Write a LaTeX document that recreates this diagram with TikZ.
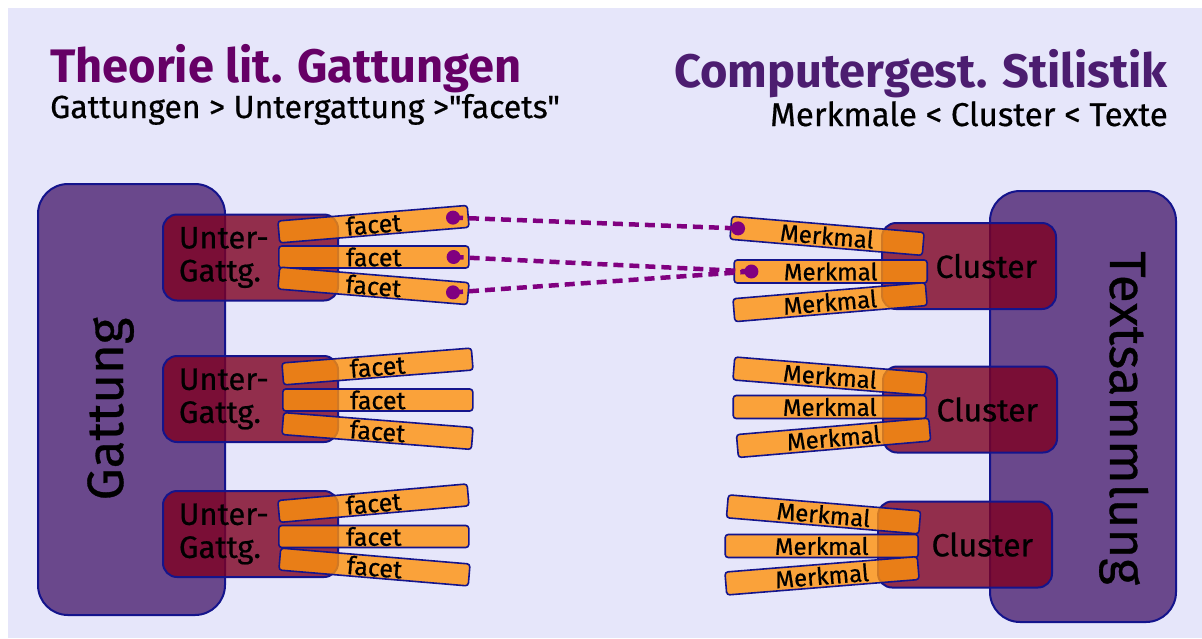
\documentclass[tikz,border=0pt]{standalone}
\usepackage{fontspec}
\setmainfont{Fira Sans}[Ligatures=TeXOff, UprightFeatures={FakeBold=0.6}]
\usetikzlibrary{calc}

\definecolor{bg}{RGB}{230,230,250}
\definecolor{edge}{RGB}{20,20,140}
\definecolor{groupfill}{RGB}{106,72,140}
\definecolor{subfill}{RGB}{126,0,33}
\definecolor{barfill}{RGB}{255,146,10}
\definecolor{linkcol}{RGB}{128,0,128}
\definecolor{titleL}{RGB}{102,0,102}
\definecolor{titleR}{RGB}{76,29,112}

\newcommand\fsz[2]{\fontsize{#1}{#2}\selectfont}

\begin{document}
\begin{tikzpicture}[x=1pt,y=-1pt,
  group/.style={draw=edge, line width=2pt, fill=groupfill, rounded corners=30pt, inner sep=0pt},
  biglabel/.style={font=\fsz{51}{51}, inner sep=0pt},
  subbox/.style={draw=edge, line width=2pt, fill=subfill, fill opacity=0.8, text opacity=1,
    rounded corners=14pt, minimum height=86pt, inner ysep=0pt},
  ugbox/.style={subbox, text width=143pt, inner xsep=16pt, align=left, font=\fsz{31}{33}},
  clbox/.style={subbox, text width=136pt, inner xsep=19pt, align=right, font=\fsz{32}{32}},
  bar/.style={draw=edge, line width=1.6pt, fill=barfill, fill opacity=0.8, text opacity=1,
    rounded corners=3pt, inner sep=0pt},
  facetbar/.style={bar, minimum width=190pt, minimum height=22pt, anchor=west, font=\fsz{25}{25}},
  merkbar/.style={bar, minimum width=193pt, minimum height=23pt, anchor=east, font=\fsz{24}{24}},
  dot/.style={circle, fill=linkcol, inner sep=0pt, minimum size=14pt},
  link/.style={draw=linkcol, line width=4.5pt, dash pattern=on 10pt off 6pt}
]
\useasboundingbox (0,0) rectangle (1202,638);
\fill[bg] (8,8) rectangle (1202,638);

% headings
\node[anchor=base west, inner sep=0pt, font=\bfseries\fsz{47}{47}, text=titleL] (titleL) at (50,82) {Theorie lit. Gattungen};
\node[anchor=base west, inner sep=0pt, font=\fsz{32}{32}] (subL) at (50,118) {Gattungen > Untergattung >"facets"};
\node[anchor=base east, inner sep=0pt, font=\bfseries\fsz{47}{47}, text=titleR] (titleR) at (1168,87) {Computergest. Stilistik};
\node[anchor=base east, inner sep=0pt, font=\fsz{33}{33}] (subR) at (1168,126) {Merkmale < Cluster < Texte};

% outer containers
\node[group, minimum width=187pt, minimum height=431pt] (gattung) at (131.5,399.5) {};
\node[biglabel, rotate=90, anchor=base] (gattungtxt) at (123,409) {Gattung};
\node[group, minimum width=186pt, minimum height=431pt] (texte) at (1083,406.5) {};
\node[biglabel, rotate=-90, anchor=base] (textetxt) at (1110,418) {Textsammlung};

% sub-genres
\node[ugbox] (ug1) at (250.5,257.5) {Unter-\\Gattg.};
\node[ugbox] (ug2) at (250.5,399) {Unter-\\Gattg.};
\node[ugbox] (ug3) at (250.5,534) {Unter-\\Gattg.};

% clusters
\node[clbox] (cl1) at (969,266) {Cluster};
\node[clbox] (cl2) at (970,409.5) {Cluster};
\node[clbox] (cl3) at (965,544.5) {Cluster};

% facets
\node[facetbar, rotate=4.7]  (f11) at (278,232) {facet};
\node[facetbar]              (f12) at (278,257) {facet};
\node[facetbar, rotate=-4.7] (f13) at (278,278) {facet};
\node[facetbar, rotate=4.5]  (f21) at (282,374) {facet};
\node[facetbar]              (f22) at (282,400) {facet};
\node[facetbar, rotate=-4.5] (f23) at (282,423.5) {facet};
\node[facetbar, rotate=5]    (f31) at (278,511.5) {facet};
\node[facetbar]              (f32) at (278,536.5) {facet};
\node[facetbar, rotate=-4.8] (f33) at (279,559) {facet};

% features
\node[merkbar, rotate=-4.8] (m11) at (924,244) {Merkmal};
\node[merkbar]              (m12) at (928,271.5) {Merkmal};
\node[merkbar, rotate=4.8]  (m13) at (927,294) {Merkmal};
\node[merkbar, rotate=-4.6] (m21) at (927,384) {Merkmal};
\node[merkbar]              (m22) at (927,407) {Merkmal};
\node[merkbar, rotate=4.9]  (m23) at (930.5,429.5) {Merkmal};
\node[merkbar, rotate=-4.8] (m31) at (920.5,522.5) {Merkmal};
\node[merkbar]              (m32) at (919,546) {Merkmal};
\node[merkbar, rotate=4.6]  (m33) at (919,568) {Merkmal};

% link end points
\node[dot] (p1) at ($(f11.east)!16pt!(f11.west)$) {};
\node[dot] (p2) at ($(f12.east)!16pt!(f12.west)$) {};
\node[dot] (p3) at ($(f13.east)!16pt!(f13.west)$) {};
\node[dot] (q1) at ($(m11.west)!8pt!(m11.east)$) {};
\node[dot] (q2) at ($(m12.west)!18pt!(m12.east)$) {};

% dashed correspondences
\draw[link] (p1.center) -- (q1.center);
\draw[link] (p2.center) -- (q2.center);
\draw[link] (p3.center) -- (q2.center);
\end{tikzpicture}
\end{document}
